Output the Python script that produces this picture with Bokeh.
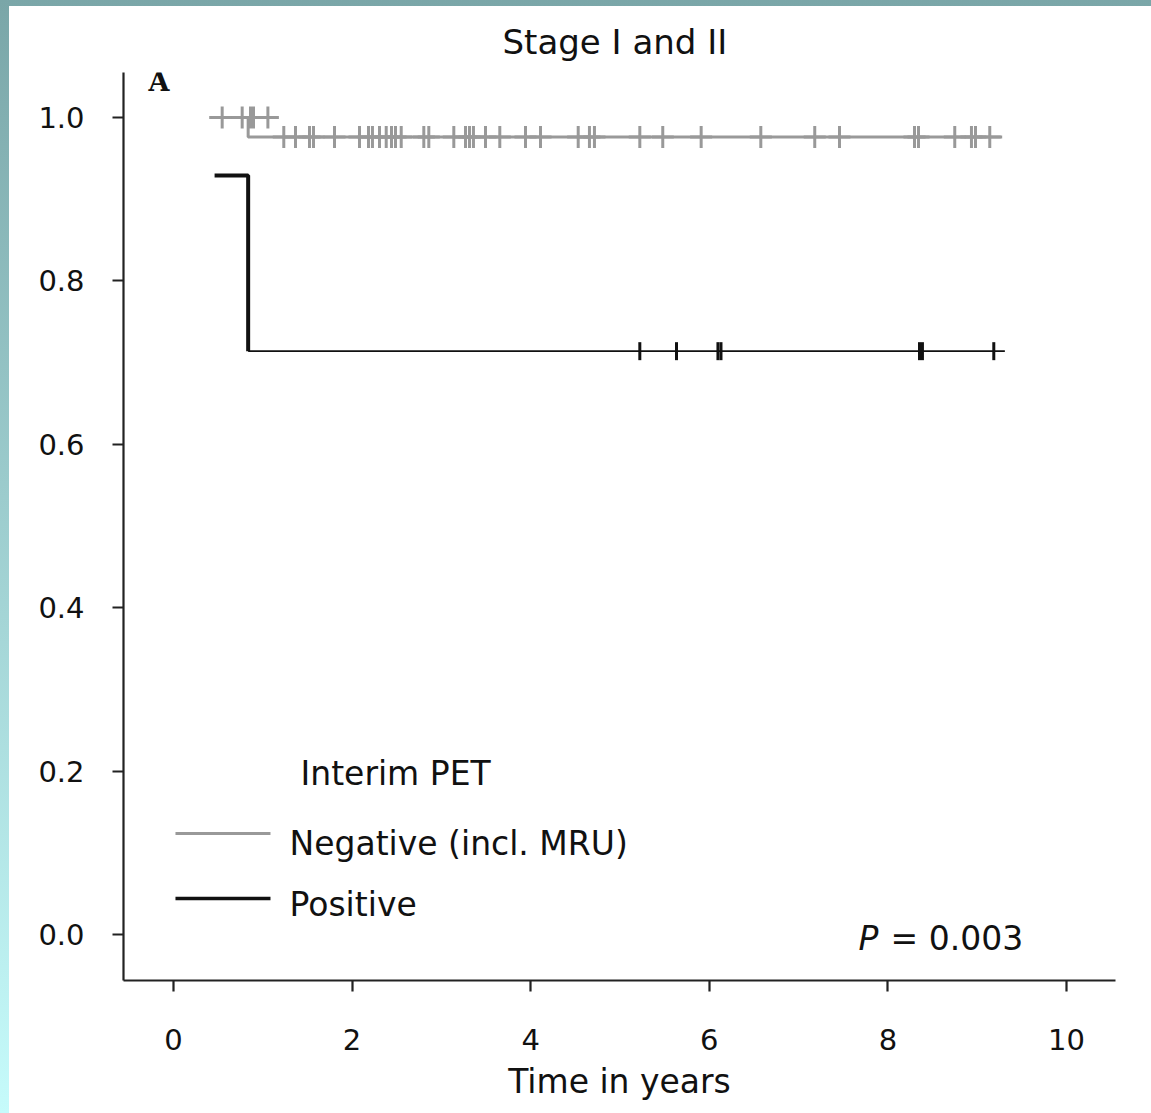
import math
from bokeh.plotting import figure
from bokeh.models import Range1d, FixedTicker, PrintfTickFormatter
from bokeh.layouts import column
from bokeh.embed import file_html
from bokeh.resources import INLINE
from bokeh.core.properties import value

# ---------------- data ----------------
title_text = "Stage I and II"
panel_letter = "A"
x_label = "Time in years"
x_ticks = [0, 2, 4, 6, 8, 10]
y_ticks = [0.0, 0.2, 0.4, 0.6, 0.8, 1.0]

# Interim PET negative (incl. MRU)
neg_step_time = [0.40, 0.836, 0.836, 9.28]
neg_step_surv = [1.0, 1.0, 0.976, 0.976]
neg_cens_time = [0.545, 0.769, 0.862, 0.896, 1.057,
                 1.235, 1.366, 1.523, 1.568, 1.803, 2.083, 2.184, 2.228, 2.307,
                 2.382, 2.441, 2.486, 2.550, 2.803, 2.859, 3.139, 3.270, 3.315,
                 3.359, 3.494, 3.654, 3.942, 4.110, 4.532, 4.658, 4.714, 5.222,
                 5.479, 5.909, 6.577, 7.181, 7.458, 8.298, 8.343, 8.749, 8.936,
                 8.981, 9.141]
neg_cens_surv = [1.0] * 5 + [0.976] * 38

# Interim PET positive
pos_early_time = [0.46, 0.836, 0.836]
pos_early_surv = [0.929, 0.929, 0.714]
pos_late_time = [0.836, 9.31]
pos_late_surv = [0.714, 0.714]
pos_cens_time = [5.222, 5.633, 6.097, 6.131, 8.354, 8.387, 9.186]
pos_cens_surv = [0.714] * 7

legend_title = "Interim PET"
legend_labels = ["Negative (incl. MRU)", "Positive"]
legend_colors = ["#999999", "#111111"]
p_value_text = "= 0.003"

# ---------------- figure ----------------
GRAY = "#999999"
BLACK = "#111111"
FONT = "DejaVu Sans"

p = figure(width=1142, height=1107, output_backend="svg", toolbar_location=None,
           x_range=Range1d(-0.560, 10.549), y_range=Range1d(-0.0563, 1.0551),
           min_border_left=114, min_border_right=36, min_border_top=66,
           min_border_bottom=133, title=title_text)
p.margin = (6, 0, 0, 9)
p.styles = {"background-color": "white"}
p.background_fill_color = "white"
p.border_fill_color = "white"
p.outline_line_color = None
p.grid.visible = False

p.title.align = "left"
p.title.offset = 379
p.title.text_font = FONT
p.title.text_font_size = "34px"
p.title.text_font_style = "normal"
p.title.text_color = "#111111"
p.title.standoff = 22

for ax in (p.xaxis[0], p.yaxis[0]):
    ax.axis_line_width = 2.2
    ax.axis_line_color = "#222222"
    ax.major_tick_line_width = 2.2
    ax.major_tick_line_color = "#222222"
    ax.major_tick_out = 11
    ax.major_tick_in = 0
    ax.minor_tick_line_color = None
    ax.major_label_text_font = FONT
    ax.major_label_text_font_size = "29px"
    ax.major_label_text_color = "#111111"

p.xaxis.ticker = FixedTicker(ticks=x_ticks)
p.yaxis.ticker = FixedTicker(ticks=y_ticks)
p.yaxis.formatter = PrintfTickFormatter(format="%.1f")
p.xaxis.major_label_standoff = 37
p.yaxis.major_label_standoff = 28
p.xaxis.axis_label = x_label
p.xaxis.axis_label_text_font = FONT
p.xaxis.axis_label_text_font_size = "33px"
p.xaxis.axis_label_text_font_style = "normal"
p.xaxis.axis_label_text_color = "#111111"
p.xaxis.axis_label_standoff = 9

# curves
p.line(neg_step_time, neg_step_surv, line_color=GRAY, line_width=3)
p.scatter(neg_cens_time, neg_cens_surv, marker="cross", size=22,
          line_color=GRAY, line_width=3)

p.line(pos_early_time, pos_early_surv, line_color=BLACK, line_width=4)
p.line(pos_late_time, pos_late_surv, line_color=BLACK, line_width=1.8)
p.scatter(pos_cens_time, pos_cens_surv, marker="dash", angle=math.pi / 2,
          size=18, line_color=BLACK, line_width=3)

# panel letter
p.text([-0.28], [1.0435], text=[panel_letter], text_font=value("DejaVu Serif"),
       text_font_size="27px", text_font_style="bold", text_color="#111111",
       text_baseline="middle", text_align="left")

# legend (manual)
p.text([1.422], [0.197], text=[legend_title], text_font=value(FONT),
       text_font_size="33px", text_color="#111111", text_baseline="middle")
leg_y_line = [0.1236, 0.044]
leg_y_text = [0.1114, 0.0367]
leg_widths = [3, 3.5]
for lbl, col, yl, yt, w in zip(legend_labels, legend_colors, leg_y_line,
                               leg_y_text, leg_widths):
    p.line([0.022, 1.086], [yl, yl], line_color=col, line_width=w)
    p.text([1.299], [yt], text=[lbl], text_font=value(FONT),
           text_font_size="33px", text_color="#111111", text_baseline="middle")

# p-value
p.text([7.671], [-0.0043], text=["P"], text_font=value(FONT),
       text_font_size="33px", text_font_style="italic", text_color="#111111",
       text_baseline="middle")
p.text([8.03], [-0.0043], text=[p_value_text], text_font=value(FONT),
       text_font_size="33px", text_color="#111111", text_baseline="middle")

layout = column(p, styles={"background": "linear-gradient(to bottom, #7aa6a8, #c6fbfb)"})

open("out.html", "w").write(file_html(layout, INLINE))
